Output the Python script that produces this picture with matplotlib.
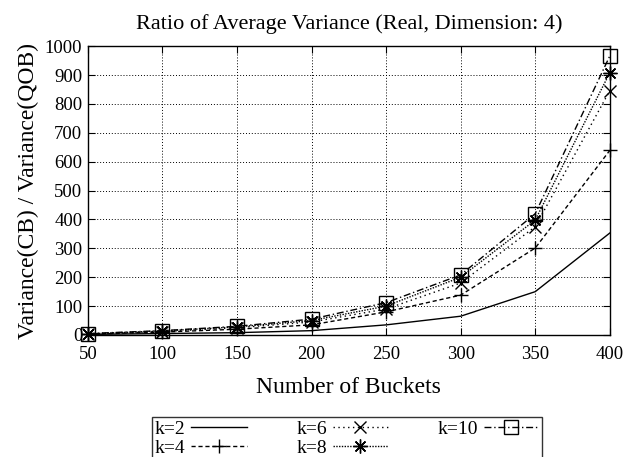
import numpy as np
import matplotlib
matplotlib.use("Agg")
import matplotlib.pyplot as plt

buckets = [50, 100, 150, 200, 250, 300, 350, 400]
k2 = [2, 5, 8, 15, 35, 65, 150, 353]
k4 = [3, 10, 20, 35, 80, 138, 301, 639]
k6 = [3, 12, 25, 45, 90, 180, 375, 846]
k8 = [4, 14, 28, 50, 100, 200, 398, 908]
k10 = [5, 15, 30, 55, 112, 208, 420, 966]

labels = ["k=2", "k=4", "k=6", "k=8", "k=10"]
yticks = [0, 100, 200, 300, 400, 500, 600, 700, 800, 900, 1000]

plt.rcParams["font.family"] = ["Liberation Serif", "DejaVu Serif"]

fig = plt.figure(figsize=(6.28, 4.57), dpi=100)
ax = fig.add_axes([0.140, 0.267, 0.831, 0.632])

styles = [
    dict(linestyle="-", marker=None),
    dict(linestyle=(0, (3, 2)), marker="+", markersize=10),
    dict(linestyle=(0, (1, 2.5)), marker="x", markersize=9),
    dict(linestyle=(0, (1, 1)), marker=(8, 2, 0), markersize=10),
    dict(linestyle=(0, (5, 2, 1, 2)), marker="s", markersize=9.5,
         markerfacecolor="none"),
]

for vals, lab, st in zip([k2, k4, k6, k8, k10], labels, styles):
    ax.plot(buckets, vals, color="black", linewidth=1.0,
            markeredgewidth=1.0, label=lab, clip_on=False, **st)

ax.set_xlim(50, 400)
ax.set_ylim(0, 1000)
ax.set_xticks(buckets)
ax.set_yticks(yticks)
ax.tick_params(direction="in", top=True, right=True, labelsize=13.5, length=5)
ax.tick_params(axis="x", pad=8)
ax.tick_params(axis="y", pad=4)
ax.grid(True, linestyle=(0, (1, 2)), color="black", linewidth=0.7)
for sp in ax.spines.values():
    sp.set_linewidth(1.0)

ax.set_title("Ratio of Average Variance (Real, Dimension: 4)", fontsize=16, pad=12)
ax.set_xlabel("Number of Buckets", fontsize=17, labelpad=10)
ax.set_ylabel("Variance(CB) / Variance(QOB)", fontsize=17, labelpad=4)

leg = fig.legend(loc="upper left", bbox_to_anchor=(0.242, 0.0, 0.621, 0.0875),
                 mode="expand", ncol=3, markerfirst=False, fontsize=14,
                 frameon=True, fancybox=False, edgecolor="black",
                 borderpad=0.15, handlelength=2.85, columnspacing=1.5,
                 labelspacing=0.1, handletextpad=0.3, borderaxespad=0)
leg.get_frame().set_linewidth(1.0)

fig.savefig("out.png", dpi=100)
